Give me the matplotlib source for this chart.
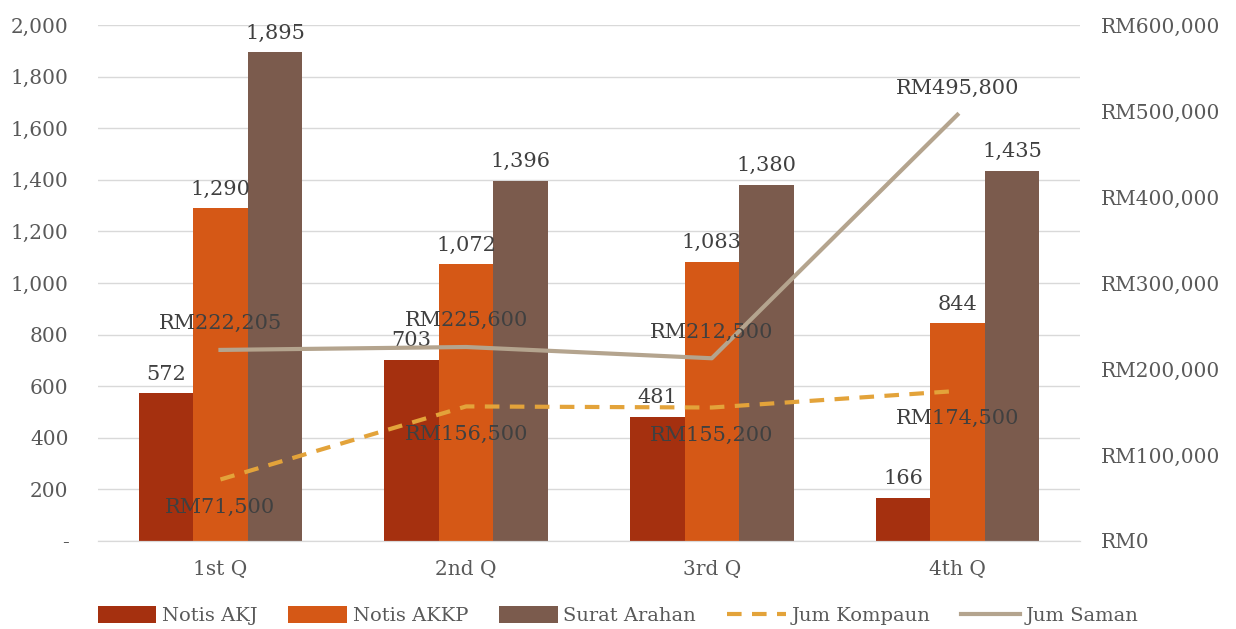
import numpy as np
import matplotlib.pyplot as plt
from matplotlib.ticker import FuncFormatter

# data
quarters = ['1st Q', '2nd Q', '3rd Q', '4th Q']
notis_akj = [572, 703, 481, 166]
notis_akkp = [1290, 1072, 1083, 844]
surat_arahan = [1895, 1396, 1380, 1435]
jum_kompaun = [71500, 156500, 155200, 174500]
jum_saman = [222205, 225600, 212500, 495800]

plt.rcParams['font.family'] = ['DejaVu Serif']
text_col = '#595959'

fig = plt.figure(figsize=(12.36, 6.29), dpi=100)
ax = fig.add_axes([0.079, 0.14, 0.795, 0.82])
ax2 = ax.twinx()

x = np.arange(len(quarters))
w = 0.222
bar_series = [(notis_akj, '#A5300F', 'Notis AKJ'),
              (notis_akkp, '#D55816', 'Notis AKKP'),
              (surat_arahan, '#7B5B4D', 'Surat Arahan')]
handles = []
for i, (vals, col, name) in enumerate(bar_series):
    b = ax.bar(x + (i - 1) * w, vals, w, color=col, label=name, zorder=2)
    handles.append(b)
    for xi, v in zip(x + (i - 1) * w, vals):
        ax.annotate(f'{v:,}', (xi, v), xytext=(0, 7), textcoords='offset points',
                    ha='center', va='bottom', fontsize=15, color='#404040')

l1, = ax2.plot(x, jum_kompaun, color='#E3A33A', lw=3, ls=(0, (3.5, 2.5)), label='Jum Kompaun')
l2, = ax2.plot(x, jum_saman, color='#B4A48E', lw=3, label='Jum Saman')
handles += [l1, l2]
for xi, v in zip(x, jum_kompaun):
    ax2.annotate(f'RM{v:,}', (xi, v), xytext=(0, -13), textcoords='offset points',
                 ha='center', va='top', fontsize=15, color='#404040')
for xi, v in zip(x, jum_saman):
    ax2.annotate(f'RM{v:,}', (xi, v), xytext=(0, 12), textcoords='offset points',
                 ha='center', va='bottom', fontsize=15, color='#404040')

ax.set_xlim(-0.5, 3.5)
ax.set_ylim(0, 2000)
ax.set_yticks(range(0, 2001, 200))
ax.yaxis.set_major_formatter(FuncFormatter(lambda v, p: '-' if v == 0 else f'{int(v):,}'))
ax2.set_ylim(0, 600000)
ax2.set_yticks(range(0, 600001, 100000))
ax2.yaxis.set_major_formatter(FuncFormatter(lambda v, p: f'RM{int(v):,}'))
ax.set_xticks(x)
ax.set_xticklabels(quarters)

ax.grid(axis='y', color='#D9D9D9', lw=1, zorder=0)
ax.set_axisbelow(True)
for a in (ax, ax2):
    for s in ['top', 'left', 'right']:
        a.spines[s].set_visible(False)
    a.spines['bottom'].set_color('#D9D9D9')
    a.tick_params(length=0, labelsize=14.5, labelcolor=text_col)
ax.tick_params(axis='y', pad=21)
ax.tick_params(axis='x', pad=14)
ax2.tick_params(axis='y', pad=15)

fig.legend(handles=handles, loc='lower center', bbox_to_anchor=(0.5, -0.022), ncol=5,
           frameon=False, fontsize=14, labelcolor=text_col, handlelength=3,
           handleheight=1.0, handletextpad=0.3, columnspacing=1.6)

plt.savefig('out.png')
